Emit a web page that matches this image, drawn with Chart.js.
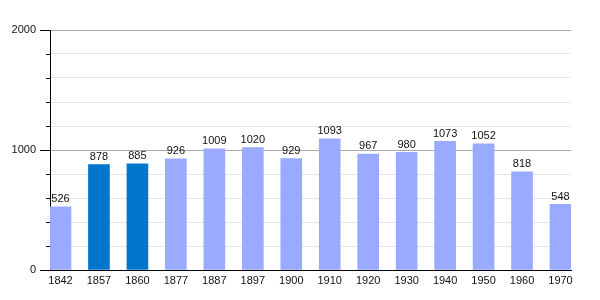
<!DOCTYPE html>
<html>
<head>
<meta charset="utf-8">
<script src="https://cdn.jsdelivr.net/npm/chart.js@4/dist/chart.umd.min.js"></script>
<style>
html,body{margin:0;padding:0;background:#fff;}
#wrap{width:600px;height:300px;position:relative;}
</style>
</head>
<body>
<div id="wrap"><canvas id="c" width="600" height="300"></canvas></div>
<script>
const categories = ["1842","1857","1860","1877","1887","1897","1900","1910","1920","1930","1940","1950","1960","1970"];
const population = [526,878,885,926,1009,1020,929,1093,967,980,1073,1052,818,548];
const highlighted = ["1857","1860"];
const yTickLabels = [0,1000,2000];

const LIGHT = "#99aaff";
const DARK = "#0077cc";
const FONT = "'Liberation Sans', Arial, sans-serif";

const barColors = categories.map(c => highlighted.includes(c) ? DARK : LIGHT);

const valueLabels = {
  id: 'valueLabels',
  afterDatasetsDraw(chart) {
    const ctx = chart.ctx;
    const meta = chart.getDatasetMeta(0);
    ctx.save();
    ctx.font = "11px " + FONT;
    ctx.fillStyle = "#111";
    ctx.textAlign = "center";
    ctx.textBaseline = "bottom";
    meta.data.forEach((bar, i) => {
      ctx.fillText(String(population[i]), bar.x, bar.y - 2);
    });
    ctx.restore();
  }
};

const yTickMarks = {
  id: 'yTickMarks',
  afterDraw(chart) {
    const ctx = chart.ctx;
    const y = chart.scales.y;
    const left = chart.chartArea.left;
    ctx.save();
    ctx.strokeStyle = "#000";
    ctx.lineWidth = 1;
    y.ticks.forEach(t => {
      const py = Math.round(y.getPixelForValue(t.value)) + 0.5;
      const len = (t.value % 1000 === 0) ? 10 : 4;
      ctx.beginPath();
      ctx.moveTo(left - len, py);
      ctx.lineTo(left, py);
      ctx.stroke();
    });
    ctx.restore();
  }
};

new Chart(document.getElementById('c'), {
  type: 'bar',
  data: {
    datasets: [{
      data: population.map((v, i) => ({x: i, y: v})),
      backgroundColor: barColors,
      borderWidth: 0,
      barThickness: 21
    }]
  },
  options: {
    responsive: false,
    animation: false,
    events: [],
    layout: { padding: { top: 30, right: 29, bottom: 0, left: 0 } },
    plugins: { legend: { display: false }, tooltip: { enabled: false } },
    scales: {
      x: {
        type: 'linear',
        offset: false,
        min: -0.273,
        max: 13.273,
        afterBuildTicks(scale) {
          scale.ticks = categories.map((c, i) => ({ value: i }));
        },
        afterFit(scale) { scale.height = 30; },
        grid: { display: false, drawTicks: false, offset: false },
        border: { display: true, color: "#000", width: 1 },
        ticks: {
          padding: 4,
          maxRotation: 0,
          autoSkip: false,
          color: "#111",
          font: { size: 11, family: FONT },
          callback: (v) => categories[v] !== undefined ? categories[v] : ''
        }
      },
      y: {
        type: 'linear',
        min: 0,
        max: 2000,
        afterFit(scale) { scale.width = 50; },
        grid: {
          drawTicks: false,
          color: (c) => (c.tick && c.tick.value % 1000 === 0) ? "#aaaaaa" : "#e6e6e6",
          lineWidth: 1
        },
        border: { display: true, color: "#000", width: 1 },
        ticks: {
          stepSize: 200,
          padding: 14,
          color: "#111",
          font: { size: 11, family: FONT },
          callback: (v) => yTickLabels.includes(v) ? String(v) : ''
        }
      }
    }
  },
  plugins: [valueLabels, yTickMarks]
});
</script>
</body>
</html>
